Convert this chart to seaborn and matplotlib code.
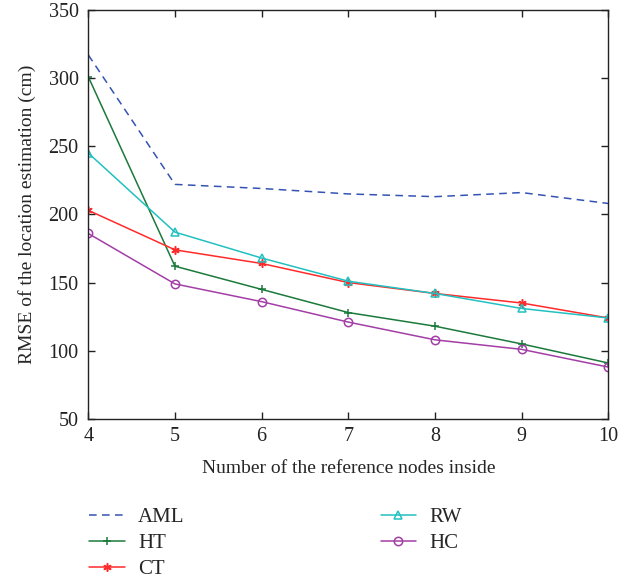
import matplotlib
matplotlib.use("Agg")
import matplotlib.pyplot as plt
import pandas as pd
import seaborn as sns

# Values
nodes = [4, 5, 6, 7, 8, 9, 10]
aml = [317, 222, 219, 215, 213, 216, 208]
ht = [301, 162, 145, 128, 118, 105, 91]
ct = [203, 174, 164, 150, 142, 135, 124]
rw = [245, 187, 168, 151, 142, 131, 124]
hc = [186, 149, 136, 121, 108, 101, 88]

series = ["AML", "HT", "CT", "RW", "HC"]
values = [aml, ht, ct, rw, hc]

sns.set_theme(style="ticks")
plt.rcParams["font.family"] = ["Liberation Serif", "DejaVu Serif"]

styles = {
    "AML": dict(color="#3553b3", linestyle=(0, (5, 3.5)), marker=None),
    "HT": dict(color="#1b7a3b", linestyle="-", marker="+"),
    "CT": dict(color="#ff2a2a", linestyle="-", marker=(6, 2, 0)),
    "RW": dict(color="#22c0c0", linestyle="-", marker="^"),
    "HC": dict(color="#a23ea6", linestyle="-", marker="o"),
}

df = pd.DataFrame(
    [(n, v, s) for s, vals in zip(series, values) for n, v in zip(nodes, vals)],
    columns=["nodes", "rmse", "method"],
)

fig = plt.figure(figsize=(6.35, 5.81), dpi=100)
ax = fig.add_axes([0.139, 0.279, 0.819, 0.704])

for name in series:
    st = styles[name]
    sub = df[df["method"] == name]
    sns.lineplot(
        data=sub, x="nodes", y="rmse", ax=ax,
        color=st["color"], linestyle=st["linestyle"], linewidth=1.1,
        marker=st["marker"], markersize=9,
        markerfacecolor="none", markeredgecolor=st["color"], markeredgewidth=1.1,
        label=name,
    )

ax.set_xlim(4, 10)
ax.set_ylim(50, 350)
ax.set_xticks(nodes)
ax.set_yticks(range(50, 351, 50))
ax.tick_params(direction="in", top=True, right=True, labelsize=14.5, length=5,
               width=1, colors="#222222")
ax.tick_params(axis="x", pad=6)
ax.tick_params(axis="y", pad=7)
for sp in ax.spines.values():
    sp.set_visible(True)
    sp.set_linewidth(1.0)
    sp.set_color("#222222")
ax.set_xlabel("Number of the reference nodes inside", fontsize=14, labelpad=10)
ax.set_ylabel("RMSE of the location estimation (cm)", fontsize=14, labelpad=9)

# legend below the axes: AML, HT, CT in the first column, RW, HC in the second
handles, labels = ax.get_legend_handles_labels()
ax.get_legend().remove()
for h in handles:
    h.set_markersize(6)
fig.legend(handles, labels, ncol=2, loc="upper left",
           bbox_to_anchor=(0.111, 0.159), frameon=False, fontsize=15,
           handlelength=1.7, handletextpad=0.65, columnspacing=9.4,
           labelspacing=0.32)

fig.savefig("out.png", dpi=100)
